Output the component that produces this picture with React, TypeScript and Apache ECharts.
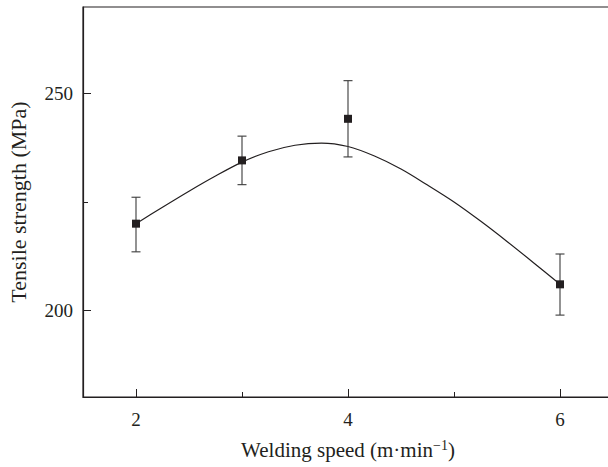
import React, { useEffect, useRef } from "react";
import * as echarts from "echarts";

const speeds = [2, 3, 4, 6];
const strength = [220.0, 234.6, 244.2, 206.0];
const errLow = [213.5, 229.0, 235.4, 198.9];
const errHigh = [226.1, 240.2, 253.0, 213.0];

const fitX = [2, 2.25, 2.5, 2.75, 3, 3.25, 3.5, 3.75, 4, 4.25, 4.5, 4.75, 5, 5.25, 5.5, 5.75, 6];
const fitY = [220.0, 223.8, 227.5, 231.0, 234.2, 236.6, 238.1, 238.6, 237.8, 235.6, 232.6, 228.9, 225.0, 220.6, 215.9, 211.0, 206.0];

const xMajorTicks = [2, 4, 6];
const xMinorTicks = [3, 5];
const yMajorTicks = [200, 250];
const yMinorTicks = [225];

const INK = "#231f20";
const FONT = "Liberation Serif";

export default function App() {
  const ref = useRef<HTMLDivElement>(null);
  useEffect(() => {
    if (!ref.current) return;
    const chart = echarts.init(ref.current, undefined, { renderer: "svg" });
    const xBase = { type: "value", min: 1.5, max: 6.5 };
    const yBase = { type: "value", min: 180, max: 270 };
    chart.setOption({
      animation: false,
      grid: {
        left: 83,
        top: 7,
        right: -5,
        bottom: 70,
        show: true,
        borderColor: INK,
        borderWidth: 1.2,
        containLabel: false,
        outerBoundsMode: "none",
      },
      xAxis: [
        {
          ...xBase,
          name: "Welding speed (m·min{sup|−1})",
          nameLocation: "middle",
          nameGap: 41,
          nameTextStyle: {
            fontFamily: FONT,
            fontSize: 21,
            color: INK,
            rich: { sup: { fontFamily: FONT, fontSize: 14, color: INK, verticalAlign: "top", padding: [0, 0, 10, 0] } },
          },
          axisLine: { show: true, onZero: false, lineStyle: { color: INK, width: 1.2 } },
          axisTick: { show: true, inside: true, length: 8, customValues: xMajorTicks, lineStyle: { color: INK } },
          axisLabel: { show: true, customValues: xMajorTicks, margin: 13, fontFamily: FONT, fontSize: 19, color: INK },
          splitLine: { show: false },
        },
        {
          ...xBase,
          position: "bottom",
          axisLine: { show: false },
          axisTick: { show: true, inside: true, length: 5, customValues: xMinorTicks, lineStyle: { color: INK } },
          axisLabel: { show: false },
          splitLine: { show: false },
        },
      ],
      yAxis: [
        {
          ...yBase,
          name: "Tensile strength (MPa)",
          nameLocation: "middle",
          nameGap: 54,
          nameTextStyle: { fontFamily: FONT, fontSize: 22, color: INK },
          axisLine: { show: true, onZero: false, lineStyle: { color: INK, width: 1.2 } },
          axisTick: { show: true, inside: true, length: 8, customValues: yMajorTicks, lineStyle: { color: INK } },
          axisLabel: { show: true, customValues: yMajorTicks, margin: 10, fontFamily: FONT, fontSize: 19, color: INK },
          splitLine: { show: false },
        },
        {
          ...yBase,
          position: "left",
          axisLine: { show: false },
          axisTick: { show: true, inside: true, length: 5, customValues: yMinorTicks, lineStyle: { color: INK } },
          axisLabel: { show: false },
          splitLine: { show: false },
        },
      ],
      series: [
        {
          type: "line",
          data: fitX.map((x, i) => [x, fitY[i]]),
          smooth: 0.3,
          showSymbol: false,
          lineStyle: { color: INK, width: 1.2 },
          z: 2,
        },
        {
          type: "custom",
          data: speeds.map((x, i) => [x, errLow[i], errHigh[i]]),
          renderItem: (params: any, api: any) => {
            const x = api.value(0);
            const lo = api.coord([x, api.value(1)]);
            const hi = api.coord([x, api.value(2)]);
            const half = 4.5;
            const style = { stroke: "#3a3a3a", lineWidth: 1.1 };
            return {
              type: "group",
              children: [
                { type: "line", shape: { x1: lo[0], y1: lo[1], x2: hi[0], y2: hi[1] }, style },
                { type: "line", shape: { x1: lo[0] - half, y1: lo[1], x2: lo[0] + half, y2: lo[1] }, style },
                { type: "line", shape: { x1: hi[0] - half, y1: hi[1], x2: hi[0] + half, y2: hi[1] }, style },
              ],
            };
          },
          z: 3,
        },
        {
          type: "scatter",
          data: speeds.map((x, i) => [x, strength[i]]),
          symbol: "rect",
          symbolSize: 8,
          itemStyle: { color: INK, opacity: 1 },
          z: 4,
        },
      ],
    });
    return () => chart.dispose();
  }, []);
  return <div ref={ref} style={{ width: 608, height: 467, position: "absolute", left: 0, top: 0 }} />;
}
